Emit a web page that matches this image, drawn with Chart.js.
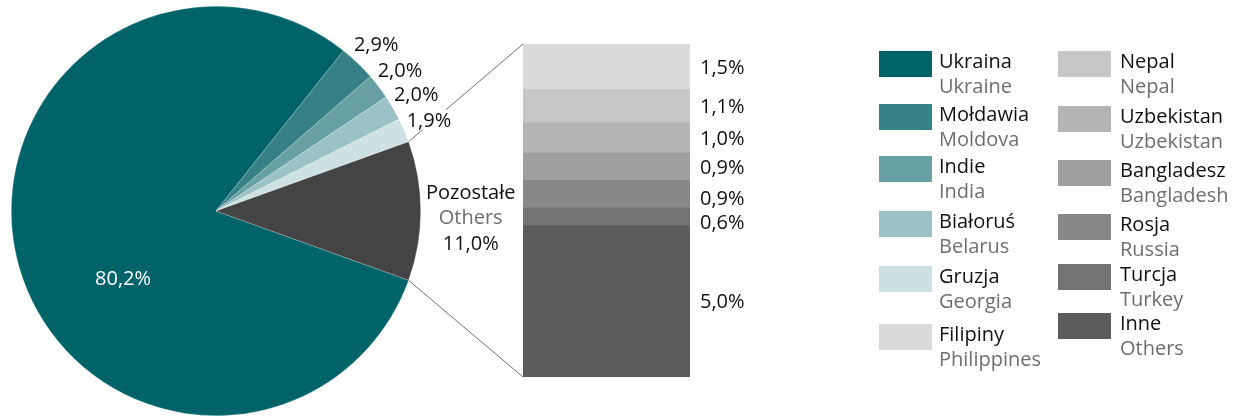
<!DOCTYPE html>
<html>
<head>
<meta charset="utf-8">
<script src="https://cdn.jsdelivr.net/npm/chart.js@4.4.1/dist/chart.umd.min.js"></script>
<style>
  html, body { margin: 0; padding: 0; background: #fff; }
  #wrap { position: relative; width: 1239px; height: 417px; overflow: hidden; font-family: "Open Sans", sans-serif; }
  #wrap canvas { position: absolute; left: 0; top: 0; }
  .item { position: absolute; }
  .sw { position: absolute; left: 0; top: 0; width: 53px; height: 26px; }
  .txt { position: absolute; top: -3px; font-size: 20px; line-height: 25px; white-space: nowrap; }
  .pl { color: #111; }
  .en { color: #6e6e6e; }
</style>
</head>
<body>
<div id="wrap">
  <canvas id="pie" width="1239" height="417"></canvas>
  <canvas id="bar" width="1239" height="417"></canvas>
  <div id="legend"></div>
</div>
<script>
const pieLabels   = ["Ukraina", "Mołdawia", "Indie", "Białoruś", "Gruzja", "Pozostałe"]
const pieLabelsEn = ["Ukraine", "Moldova", "India", "Belarus", "Georgia", "Others"]
const pieValues   = [80.2, 2.9, 2.0, 2.0, 1.9, 11.0]

const barLabels   = ["Filipiny", "Nepal", "Uzbekistan", "Bangladesz", "Rosja", "Turcja", "Inne"]
const barLabelsEn = ["Philippines", "Nepal", "Uzbekistan", "Bangladesh", "Russia", "Turkey", "Others"]
const barValues   = [1.5, 1.1, 1.0, 0.9, 0.9, 0.6, 5.0]

const pieColors = ["#00636a", "#358185", "#67a1a4", "#9bc2c4", "#cde1e2", "#444444"]
const barColors = ["#d9dad9", "#c6c7c6", "#b3b4b3", "#9e9f9e", "#888888", "#737373", "#5c5c5c"]

const FONT = '"Open Sans", sans-serif'
const fmt = (v) => v.toFixed(1).replace(".", ",") + "%"

const pieTotal = pieValues.reduce((a, b) => a + b, 0)
const barTotal = barValues.reduce((a, b) => a + b, 0)

// text drawn with its visual centre at cy
function centerText(ctx, str, x, cy, color, align) {
  ctx.fillStyle = color
  ctx.textAlign = align || "center"
  ctx.textBaseline = "alphabetic"
  ctx.fillText(str, x, cy + 7)
}

const barLabelPlugin = {
  id: "barLabels",
  afterDatasetsDraw(chart) {
    const ctx = chart.ctx
    const items = chart.data.datasets.map((ds, d) => {
      const el = chart.getDatasetMeta(d).data[0]
      return { y: (el.y + el.base) / 2, bottom: el.base, x: el.x + el.width / 2, v: ds.data[0] }
    }).sort((a, b) => a.y - b.y)
    // crowded labels: drop the upper one to the foot of its segment, stack the next below
    for (let i = 1; i < items.length; i++) {
      if (items[i].y - items[i - 1].y < 24) {
        items[i - 1].y = Math.max(items[i - 1].y, items[i - 1].bottom - 9)
        items[i].y = Math.max(items[i].y, items[i - 1].y + 24)
      }
    }
    ctx.save()
    ctx.font = "20px " + FONT
    items.forEach(it => centerText(ctx, fmt(it.v), it.x + 10, it.y, "#111", "left"))
    ctx.restore()
  }
}

const barChart = new Chart(document.getElementById("bar"), {
  type: "bar",
  data: {
    labels: [""],
    datasets: barLabels.map((l, i) => ({
      label: l,
      data: [barValues[i]],
      backgroundColor: barColors[i],
      borderWidth: 0
    })).reverse()
  },
  options: {
    responsive: false,
    animation: false,
    layout: { padding: { left: 523, right: 549, top: 44, bottom: 40 } },
    datasets: { bar: { barPercentage: 1, categoryPercentage: 1 } },
    scales: {
      x: { display: false, stacked: true },
      y: { display: false, stacked: true, min: 0, max: barTotal }
    },
    plugins: { legend: { display: false }, tooltip: { enabled: false } }
  },
  plugins: [barLabelPlugin]
})

const pieLabelPlugin = {
  id: "pieLabels",
  afterDatasetsDraw(chart) {
    const ctx = chart.ctx
    const arcs = chart.getDatasetMeta(0).data
    const other = arcs[arcs.length - 1]

    // connectors from the "others" slice to the bar
    const bars = barChart.data.datasets.map((_, d) => barChart.getDatasetMeta(d).data[0])
    const left = bars[0].x - bars[0].width / 2
    const top = Math.min(...bars.map(b => b.y))
    const bottom = Math.max(...bars.map(b => b.base))
    ctx.save()
    ctx.strokeStyle = "#707070"
    ctx.lineWidth = 1
    ctx.beginPath()
    ctx.moveTo(other.x + other.outerRadius * Math.cos(other.startAngle), other.y + other.outerRadius * Math.sin(other.startAngle))
    ctx.lineTo(left, top)
    ctx.moveTo(other.x + other.outerRadius * Math.cos(other.endAngle), other.y + other.outerRadius * Math.sin(other.endAngle))
    ctx.lineTo(left, bottom)
    ctx.stroke()

    ctx.font = "20px " + FONT
    arcs.forEach((a, i) => {
      const mid = (a.startAngle + a.endAngle) / 2
      const R = a.outerRadius
      if (i === 0) {
        const ang = mid - 20 * Math.PI / 180
        centerText(ctx, fmt(pieValues[i]), a.x + 0.56 * R * Math.cos(ang), a.y + 0.56 * R * Math.sin(ang), "#fff")
      } else if (i === arcs.length - 1) {
        const cx = a.x + (R + 50) * Math.cos(mid)
        const cy = a.y + (R + 50) * Math.sin(mid) + 6
        centerText(ctx, pieLabels[i], cx, cy - 25, "#111")
        centerText(ctx, pieLabelsEn[i], cx, cy, "#6e6e6e")
        centerText(ctx, fmt(pieValues[i]), cx, cy + 26, "#111")
      } else {
        const cx = a.x + (R + 27) * Math.cos(mid)
        const cy = a.y + (R + 27) * Math.sin(mid)
        const s = fmt(pieValues[i])
        const w = ctx.measureText(s).width
        ctx.fillStyle = "#fff"
        ctx.fillRect(cx - w / 2 - 2, cy - 10, w + 4, 20)
        centerText(ctx, s, cx, cy, "#111")
      }
    })
    ctx.restore()
  }
}

const pieChart = new Chart(document.getElementById("pie"), {
  type: "pie",
  data: {
    labels: pieLabels,
    datasets: [{
      data: pieValues,
      backgroundColor: pieColors,
      borderColor: "rgba(255,255,255,0.35)",
      borderWidth: 0.6,
      hoverOffset: 0
    }]
  },
  options: {
    responsive: false,
    animation: false,
    rotation: 90 + pieValues[pieValues.length - 1] / pieTotal * 180,
    layout: { padding: { left: 11, top: 6, right: 818, bottom: 1 } },
    plugins: { legend: { display: false }, tooltip: { enabled: false } }
  },
  plugins: [pieLabelPlugin]
})

// legend: two columns, Polish name over English name
const legendItems = pieLabels.slice(0, 5).map((l, i) => ({ pl: l, en: pieLabelsEn[i], c: pieColors[i] }))
  .concat(barLabels.map((l, i) => ({ pl: l, en: barLabelsEn[i], c: barColors[i] })))
const cols = [
  { x: 879, tx: 60, tops: [51, 104, 156, 211, 266, 324] },
  { x: 1058, tx: 62, tops: [51, 106, 160, 214, 264, 313] }
]
const legend = document.getElementById("legend")
legendItems.forEach((it, i) => {
  const col = cols[Math.floor(i / 6)]
  const div = document.createElement("div")
  div.className = "item"
  div.style.left = col.x + "px"
  div.style.top = col.tops[i % 6] + "px"
  div.innerHTML = `<div class="sw" style="background:${it.c}"></div>` +
    `<div class="txt" style="left:${col.tx}px"><div class="pl">${it.pl}</div><div class="en">${it.en}</div></div>`
  legend.appendChild(div)
})
</script>
</body>
</html>
